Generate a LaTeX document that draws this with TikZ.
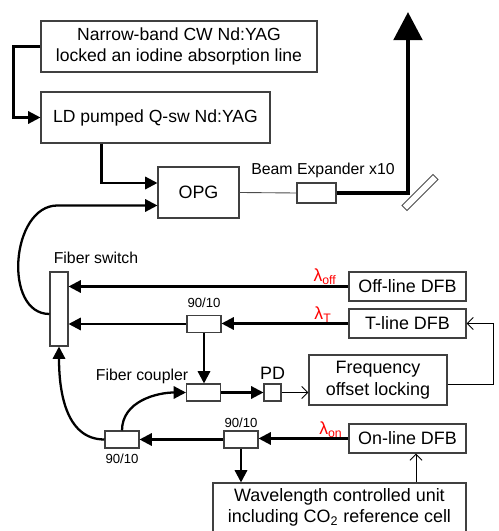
\documentclass[tikz,border=0pt]{standalone}
\usepackage{fontspec}
\setmainfont{Liberation Sans}
\usepackage{tikz}
\usetikzlibrary{arrows.meta,shapes}
\usetikzlibrary{calc}
\usetikzlibrary{positioning}

\begin{document}
\begin{tikzpicture}[x=0.02cm, y=0.02cm,
   box/.style={draw=black!75, line width=0.6pt, inner sep=0pt, align=center},
   cpl/.style={draw=black!75, line width=0.6pt, inner sep=0pt, minimum width=34*\u, minimum height=17*\u},
   thk/.style={line width=1.3pt, -{Triangle[length=7pt,width=7pt]}},
   thn/.style={line width=0.5pt, -{Straight Barb[length=3.5pt,width=7pt]}},
   big/.style={font=\fontsize{10.2}{12.2}\selectfont},
   mid/.style={font=\fontsize{10}{11.9}\selectfont},
   sml/.style={font=\fontsize{9}{10.5}\selectfont},
   tny/.style={font=\fontsize{7.5}{9}\selectfont},
   lam/.style={red, font=\fontsize{10}{12}\selectfont, anchor=base east, inner sep=0pt}]

 \def\u{0.02cm};
 \useasboundingbox (0,0) rectangle (498,531);

	%lasers
 \node[box, mid, minimum width=276*\u, minimum height=51*\u] (cw) at (179,484.5) {Narrow-band CW Nd:YAG\\locked an iodine absorption line};
 \node[box, mid, minimum width=229*\u, minimum height=51*\u] (qsw) at (155.5,413.5) {LD pumped Q-sw Nd:YAG};
 \node[box, big, minimum width=81*\u, minimum height=51*\u] (opg) at (198.5,338.5) {OPG};
 \node[box, minimum width=39*\u, minimum height=20*\u] (bx) at (316.5,338) {};
 \node[sml] (bxl) at (323,361) {Beam Expander x10};
 \node[draw=black!70, fill=white, line width=0.5pt, inner sep=0pt, minimum width=44*\u, minimum height=7*\u, rotate=45] (mir) at (420,338.5) {};
 \coordinate (mc) at (408,338);
 \coordinate (top) at (408,519);

	%DFB
    \foreach \y/\txt/\name in {244.5/Off-line DFB/off, 207.5/T-line DFB/tl, 92.5/On-line DFB/on}{
       \node[box, big, minimum width=117*\u, minimum height=29*\u] (\name) at (407.5,\y) {\txt};
    }

 \node[box, minimum width=18*\u, minimum height=74*\u] (fs) at (59,222) {};
 \node[sml] (fsl) at (96,273) {Fiber switch};

	%couplers
    \foreach \x/\y/\name in {204/207/c1, 203.5/138.5/fc, 241/91.5/c3, 122/91.5/c2}{
       \node[cpl] (\name) at (\x,\y) {};
    }
    \foreach \x/\y/\name in {204/228/c1l, 241/108/c3l, 122/72/c2l}{
       \node[tny] (\name) at (\x,\y) {90/10};
    }
 \node[sml] (fcl) at (142,155) {Fiber coupler};
 \node[box, minimum width=17*\u, minimum height=17*\u] (pd) at (272.5,138.5) {};
 \node[big] (pdl) at (272.5,158) {PD};
 \node[box, big, minimum width=138*\u, minimum height=50*\u] (fr) at (378,151) {Frequency\\offset locking};
 \node[box, big, minimum width=253*\u, minimum height=49*\u] (wv) at (339.5,23.5) {Wavelength controlled unit\\including CO\textsubscript{2} reference cell};

	%wavelengths
 \node[lam] (loff) at (337,249) {λ\textsubscript{off}};
 \node[lam] (lt) at (332,211) {λ\textsubscript{T}};
 \node[lam] (lon) at (343,96) {λ\textsubscript{on}};

	%pump path
 \draw[thk] (cw.west) -- ++(-27,0) |- (qsw.west);
 \draw[thk] ($(qsw.south west)+(61,0)$) |- ($(opg.west)+(0,9.5)$);
 \draw[line width=0.5pt, black!70] (opg.east) -- (bx.west);
 \draw[line width=2.8pt, -{Triangle[length=16pt,width=16pt]}] (bx.east) -- (mc) -- (top);

	%fibers
 \draw[thk] (off.west) -- (off.west -| fs.east);
 \draw[thk] (tl.west) -- (tl.west -| c1.east);
 \draw[thk] (c1.west) -- (c1.west -| fs.east);
 \draw[thk] (c1.south) -- (c1.south |- fc.north);
 \draw[thk] (fc.east) -- (pd.west);
 \draw[thn] (pd.east) -- (pd.east -| fr.west);
 \draw[thn] ($(fr.east)+(0,-4)$) -- ++(46,0) |- (tl.east);
 \draw[thk] (on.west) -- (on.west -| c3.east);
 \draw[thk] (c3.west) -- (c2.east);
 \draw[thk] (c3.south) -- (c3.south |- wv.north);
 \draw[thn] ($(wv.north)+(76.5,0)$) -- ($(on.south)+(8.5,0)$);
 \draw[thk] (c2.north) to[out=90,in=180] (fc.west);
 \draw[thk] (c2.west) to[out=180,in=-90] (fs.south);
 \draw[thk] ($(fs.west)+(0,-5)$) to[out=180,in=180,looseness=1.1] ($(opg.west)+(-100,-13)$) -- ($(opg.west)+(0,-13)$);

\end{tikzpicture}
\end{document}
